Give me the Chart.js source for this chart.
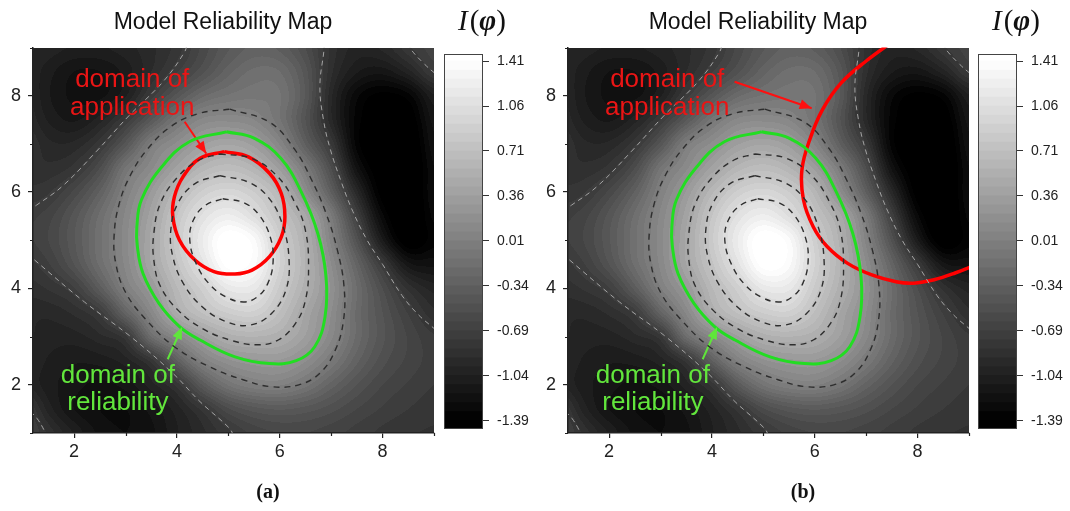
<!DOCTYPE html>
<html>
<head>
<meta charset="utf-8">
<script src="https://cdn.jsdelivr.net/npm/chart.js@4.4.1/dist/chart.umd.min.js"></script>
<style>
  html, body { margin: 0; padding: 0; background: #fff; }
  #page { position: relative; width: 1070px; height: 511px; overflow: hidden; font-family: "Liberation Sans", Arial, sans-serif; }
  canvas { position: absolute; top: 0; }
  .title { position: absolute; top: 8px; width: 300px; font-size: 23px; line-height: 27px; text-align: center; color: #111; }
  .sym { position: absolute; top: 4px; width: 90px; text-align: center; font-family: "Liberation Serif", "Times New Roman", serif; font-size: 29px; line-height: 32px; color: #111; }
  .sym i.v { margin-right: 2px; }
  .cap { position: absolute; top: 479px; width: 60px; text-align: center; font-family: "Liberation Serif", "Times New Roman", serif; font-weight: bold; font-size: 20px; line-height: 24px; color: #111; }
</style>
</head>
<body>
<div id="page">
  <canvas id="mapA" width="444" height="511" style="left:0px"></canvas>
  <canvas id="barA" width="90" height="511" style="left:444px"></canvas>
  <canvas id="mapB" width="444" height="511" style="left:535px"></canvas>
  <canvas id="barB" width="90" height="511" style="left:978px"></canvas>
  <div class="title" style="left:73px">Model Reliability Map</div>
  <div class="title" style="left:608px">Model Reliability Map</div>
  <div class="sym" style="left:437px"><i class="v">I</i>(<b><i>φ</i></b>)</div>
  <div class="sym" style="left:971px"><i class="v">I</i>(<b><i>φ</i></b>)</div>
  <div class="cap" style="left:238px">(a)</div>
  <div class="cap" style="left:773px">(b)</div>
</div>
<script>
// Data

// grid of I(phi) values, rows follow yNodes (top to bottom), columns follow xNodes
const xNodes = [1.0, 1.5, 2.0, 2.5, 3.0, 3.5, 4.0, 4.5, 5.0, 5.5, 6.0, 6.5, 7.0, 7.5, 8.0, 8.5, 9.0];
const yNodes = [9.0, 8.5, 8.0, 7.5, 7.0, 6.5, 6.0, 5.5, 5.0, 4.5, 4.0, 3.5, 3.0, 2.5, 2.0, 1.5, 1.0];
const field = [
    [-0.95, -1.0, -1.05, -1.05, -1.0, -0.92, -0.8, -0.6, -0.42, -0.32, -0.36, -0.55, -0.85, -1.0, -0.95, -0.78, -0.65],
    [-0.95, -1.08, -1.18, -1.18, -1.08, -0.9, -0.7, -0.5, -0.3, -0.18, -0.2, -0.45, -0.88, -1.1, -1.15, -1.0, -0.75],
    [-0.92, -1.1, -1.2, -1.2, -1.05, -0.73, -0.45, -0.22, -0.12, -0.08, -0.12, -0.42, -0.95, -1.3, -1.42, -1.35, -1.05],
    [-0.88, -1.05, -1.12, -1.0, -0.75, -0.42, -0.1, 0.1, 0.13, 0.08, -0.12, -0.48, -0.95, -1.35, -1.5, -1.48, -1.15],
    [-0.8, -0.95, -0.95, -0.78, -0.45, -0.03, 0.17, 0.35, 0.42, 0.33, 0.07, -0.35, -0.77, -1.35, -1.55, -1.55, -1.2],
    [-0.85, -0.88, -0.8, -0.55, -0.12, 0.13, 0.38, 0.6, 0.68, 0.58, 0.33, -0.05, -0.55, -1.2, -1.5, -1.58, -1.25],
    [-0.82, -0.77, -0.6, -0.33, 0.02, 0.3, 0.62, 0.87, 0.96, 0.85, 0.6, 0.15, -0.35, -0.95, -1.45, -1.58, -1.25],
    [-0.72, -0.65, -0.45, -0.18, 0.1, 0.4, 0.78, 1.08, 1.22, 1.05, 0.75, 0.45, -0.05, -0.7, -1.3, -1.55, -1.3],
    [-0.72, -0.62, -0.42, -0.15, 0.12, 0.45, 0.83, 1.2, 1.5, 1.36, 0.88, 0.54, 0.05, -0.5, -1.1, -1.48, -1.35],
    [-0.8, -0.7, -0.48, -0.18, 0.1, 0.43, 0.76, 1.1, 1.45, 1.36, 0.92, 0.57, 0.15, -0.3, -0.75, -1.15, -1.2],
    [-0.88, -0.82, -0.7, -0.38, 0.0, 0.28, 0.63, 0.88, 1.15, 1.15, 0.83, 0.53, 0.2, -0.2, -0.55, -0.85, -1.0],
    [-0.95, -0.95, -0.88, -0.73, -0.3, 0.1, 0.5, 0.72, 0.86, 0.9, 0.7, 0.42, 0.15, -0.22, -0.48, -0.7, -0.88],
    [-0.95, -1.0, -1.0, -0.92, -0.78, -0.2, 0.1, 0.35, 0.53, 0.57, 0.52, 0.35, 0.1, -0.22, -0.46, -0.63, -0.75],
    [-0.95, -1.05, -1.1, -1.08, -1.0, -0.8, -0.35, 0.02, 0.2, 0.27, 0.28, 0.16, -0.06, -0.32, -0.52, -0.64, -0.72],
    [-0.95, -1.08, -1.15, -1.2, -1.15, -1.0, -0.8, -0.4, -0.12, 0.0, 0.02, -0.1, -0.3, -0.48, -0.62, -0.7, -0.76],
    [-0.7, -1.0, -1.18, -1.25, -1.25, -1.15, -1.0, -0.8, -0.56, -0.44, -0.4, -0.44, -0.52, -0.62, -0.7, -0.76, -0.8],
    [-0.6, -0.85, -1.05, -1.2, -1.25, -1.2, -1.05, -0.92, -0.78, -0.67, -0.62, -0.62, -0.66, -0.72, -0.78, -0.82, -0.84]
];

// colour levels of the map and colour bar
const levels = [-1.39, -1.32, -1.25, -1.18, -1.11, -1.04, -0.97, -0.90, -0.83, -0.76,
    -0.69, -0.62, -0.55, -0.48, -0.41, -0.34, -0.27, -0.20, -0.13, -0.06,
    0.01, 0.08, 0.15, 0.22, 0.29, 0.36, 0.43, 0.50, 0.57, 0.64,
    0.71, 0.78, 0.85, 0.92, 0.99, 1.06, 1.13, 1.20, 1.27, 1.34, 1.41];
const cbTicks = [-1.39, -1.04, -0.69, -0.34, 0.01, 0.36, 0.71, 1.06, 1.41];
const cbMin = -1.455;
const cbMax = 1.465;

const xTicks = [2, 3, 4, 5, 6, 7, 8, 9];
const yTicks = [1, 2, 3, 4, 5, 6, 7, 8, 9];

// dashed contour lines
const ring100 = [[4.89, 5.86], [5.3, 5.78], [5.6, 5.52], [5.82, 5.05], [5.87, 4.55], [5.77, 4.11], [5.57, 3.83],
    [5.3, 3.72], [4.96, 3.82], [4.64, 4.08], [4.38, 4.5], [4.25, 5.0], [4.32, 5.42], [4.56, 5.73], [4.89, 5.86]];
const ring075 = [[4.83, 6.34], [5.4, 6.2], [5.8, 5.86], [6.06, 5.3], [6.18, 4.6], [6.12, 3.97], [5.84, 3.48],
    [5.43, 3.24], [4.96, 3.31], [4.49, 3.62], [4.12, 4.11], [3.92, 4.66], [3.88, 5.21], [4.02, 5.77], [4.36, 6.18], [4.83, 6.34]];
const ring050 = [[4.83, 6.79], [5.45, 6.7], [5.95, 6.33], [6.3, 5.77], [6.5, 5.2], [6.56, 4.45], [6.5, 3.76],
    [6.31, 3.28], [5.97, 2.93], [5.57, 2.83], [5.03, 2.93], [4.49, 3.17], [4.02, 3.55], [3.68, 4.04], [3.55, 4.59],
    [3.55, 5.14], [3.68, 5.77], [4.02, 6.32], [4.42, 6.66], [4.83, 6.79]];
const ring000 = [[5.03, 7.72], [5.8, 7.45], [6.28, 6.9], [6.62, 6.25], [6.9, 5.56], [7.12, 4.8], [7.25, 4.04],
    [7.24, 3.34], [7.08, 2.72], [6.78, 2.24], [6.37, 2.0], [5.84, 1.96], [5.3, 2.1], [4.62, 2.38], [3.95, 2.79],
    [3.41, 3.34], [3.01, 3.9], [2.81, 4.52], [2.78, 5.14], [2.88, 5.77], [3.08, 6.32], [3.41, 6.87], [3.88, 7.36],
    [4.42, 7.63], [5.03, 7.72]];
const outerNW = [[1.1, 5.62], [1.27, 5.73], [1.78, 6.13], [2.43, 6.84], [3.08, 7.6], [3.73, 8.29], [4.15, 8.91], [4.2, 9.1]];
const outerSW = [[1.1, 4.72], [1.22, 4.6], [2.2, 3.72], [3.1, 3.0], [3.9, 2.26], [4.45, 1.65], [5.02, 1.1], [5.1, 0.95]];
const outerCorner = [[1.15, 1.45], [1.28, 1.3], [1.42, 1.05], [1.45, 0.95]];
const outerE = [[6.86, 9.1], [6.86, 8.95], [6.78, 8.2], [6.85, 7.5], [6.98, 6.9], [7.2, 6.2], [7.42, 5.6],
    [7.7, 5.0], [8.0, 4.5], [8.38, 3.85], [8.7, 3.45], [9.0, 3.17], [9.1, 3.07]];
const outerNE = [[8.5, 9.1], [8.56, 8.95], [8.82, 8.65], [9.0, 8.48], [9.1, 8.4]];

// domain of reliability (green) and domains of application (red)
const reliability = [[4.96, 7.25], [5.5, 7.12], [6.02, 6.7], [6.42, 6.0], [6.74, 5.14], [6.9, 4.24], [6.88, 3.41],
    [6.68, 2.79], [6.32, 2.5], [5.8, 2.44], [5.13, 2.58], [4.45, 2.93], [4.05, 3.21], [3.65, 3.69], [3.34, 4.31],
    [3.23, 4.87], [3.22, 5.28], [3.31, 5.84], [3.71, 6.53], [4.25, 7.05], [4.96, 7.25]];
const applicationA = [[4.92, 6.84], [5.39, 6.73], [5.8, 6.39], [6.03, 5.97], [6.1, 5.49], [6.03, 5.07], [5.8, 4.66],
    [5.46, 4.38], [5.13, 4.3], [4.72, 4.35], [4.35, 4.59], [4.05, 5.0], [3.92, 5.49], [3.95, 5.9], [4.12, 6.32],
    [4.45, 6.7], [4.92, 6.84]];
const applicationB = [[7.55, 9.15], [7.0, 8.72], [6.51, 8.26], [6.15, 7.71], [5.9, 7.08], [5.75, 6.46], [5.78, 5.84],
    [5.97, 5.28], [6.24, 4.87], [6.64, 4.52], [7.11, 4.28], [7.58, 4.14], [7.92, 4.11], [8.32, 4.18], [8.73, 4.32], [9.2, 4.52]];

// arrows: tail, tip
const arrowAppA = [[4.15, 7.46], [4.57, 6.8]];
const arrowAppB = [[4.44, 8.29], [5.94, 7.74]];
const arrowRel = [[3.82, 2.53], [4.1, 3.2]];

const notes = [
    { text: 'domain of', x: 3.13, y: 8.19, color: '#ea1515' },
    { text: 'application', x: 3.13, y: 7.59, color: '#ea1515' },
    { text: 'domain of', x: 2.85, y: 2.04, color: '#62e63c' },
    { text: 'reliability', x: 2.85, y: 1.48, color: '#62e63c' }
];

const FONT = '"Liberation Sans", Arial, sans-serif';
Chart.defaults.font.family = FONT;
Chart.defaults.color = '#222';

// Helpers
const pts = arr => arr.map(([x, y]) => ({ x, y }));
const isMinor = v => v % 2 !== 0;

function grayFor(v) {
    if (v < levels[0]) return 0;
    const n = levels.length - 1;
    if (v >= levels[n]) return 255;
    let k = 0;
    while (v >= levels[k + 1]) k++;
    return Math.round(255 * (k + 0.5) / n);
}

function cubic(p0, p1, p2, p3, t) {
    return p1 + 0.5 * t * (p2 - p0 + t * (2 * p0 - 5 * p1 + 4 * p2 - p3 + t * (3 * (p1 - p2) + p3 - p0)));
}

function fieldAt(x, y) {
    const fx = (x - xNodes[0]) / (xNodes[1] - xNodes[0]);
    const fy = (yNodes[0] - y) / (yNodes[0] - yNodes[1]);
    const ix = Math.floor(fx), iy = Math.floor(fy);
    const tx = fx - ix, ty = fy - iy;
    const cx = i => Math.min(Math.max(i, 0), xNodes.length - 1);
    const cy = i => Math.min(Math.max(i, 0), yNodes.length - 1);
    const col = [];
    for (let m = -1; m <= 2; m++) {
        const r = field[cy(iy + m)];
        col.push(cubic(r[cx(ix - 1)], r[cx(ix)], r[cx(ix + 1)], r[cx(ix + 2)], tx));
    }
    return cubic(col[0], col[1], col[2], col[3], ty);
}

// Plugins
const heatmapPlugin = {
    id: 'heatmap',
    beforeDraw(chart) {
        const { ctx, chartArea: a, scales: { x, y } } = chart;
        const x0 = Math.round(a.left), y0 = Math.round(a.top);
        const w = Math.round(a.right) - x0, h = Math.round(a.bottom) - y0;
        const img = ctx.createImageData(w, h);
        for (let j = 0; j < h; j++) {
            const yv = y.getValueForPixel(y0 + j + 0.5);
            for (let i = 0; i < w; i++) {
                const g = grayFor(fieldAt(x.getValueForPixel(x0 + i + 0.5), yv));
                const k = (j * w + i) * 4;
                img.data[k] = img.data[k + 1] = img.data[k + 2] = g;
                img.data[k + 3] = 255;
            }
        }
        ctx.putImageData(img, x0, y0);
    },
    // short minor ticks at the odd values
    afterDraw(chart) {
        const { ctx, chartArea: a, scales: { x, y } } = chart;
        ctx.save();
        ctx.strokeStyle = '#222';
        ctx.lineWidth = 1.2;
        ctx.beginPath();
        xTicks.filter(isMinor).forEach(v => {
            const px = Math.round(x.getPixelForValue(v)) + 0.5;
            ctx.moveTo(px, a.bottom);
            ctx.lineTo(px, a.bottom + 3);
        });
        yTicks.filter(isMinor).forEach(v => {
            const py = Math.round(y.getPixelForValue(v)) + 0.5;
            ctx.moveTo(a.left, py);
            ctx.lineTo(a.left - 3, py);
        });
        ctx.stroke();
        ctx.restore();
    }
};

const notesPlugin = {
    id: 'notes',
    afterDatasetsDraw(chart) {
        const { ctx, scales: { x, y } } = chart;
        chart.data.datasets.forEach((ds, i) => {
            if (!ds.arrow) return;
            const el = chart.getDatasetMeta(i).data;
            const p = el[el.length - 1], q = el[el.length - 2];
            ctx.save();
            ctx.translate(p.x, p.y);
            ctx.rotate(Math.atan2(p.y - q.y, p.x - q.x));
            ctx.beginPath();
            ctx.moveTo(0, 0);
            ctx.lineTo(-12, -5);
            ctx.lineTo(-12, 5);
            ctx.closePath();
            ctx.fillStyle = ds.borderColor;
            ctx.fill();
            ctx.restore();
        });
        ctx.save();
        ctx.font = '26px ' + FONT;
        ctx.textAlign = 'center';
        ctx.textBaseline = 'alphabetic';
        notes.forEach(n => {
            ctx.fillStyle = n.color;
            ctx.fillText(n.text, x.getPixelForValue(n.x), y.getPixelForValue(n.y));
        });
        ctx.restore();
    }
};

const framePlugin = {
    id: 'frame',
    afterDraw(chart) {
        const { ctx, chartArea: a } = chart;
        ctx.save();
        ctx.strokeStyle = '#444';
        ctx.lineWidth = 1;
        ctx.strokeRect(a.left + 0.5, a.top + 0.5, a.width - 1, a.height - 1);
        ctx.restore();
    }
};

// Charts
function line(data, color, width, dash) {
    return {
        data: pts(data),
        showLine: true,
        borderColor: color,
        borderWidth: width,
        borderDash: dash || [],
        pointRadius: 0,
        tension: 0.4,
        fill: false
    };
}

function axis(min, max, values, padding, fit) {
    return {
        type: 'linear',
        min,
        max,
        afterBuildTicks: s => { s.ticks = values.map(v => ({ value: v })); },
        afterFit: fit,
        grid: {
            drawOnChartArea: false,
            tickLength: 5,
            lineWidth: 1.2,
            tickColor: c => (c.tick && isMinor(c.tick.value) ? 'rgba(0,0,0,0)' : '#222')
        },
        border: { color: '#222', width: 1.5 },
        ticks: {
            font: { size: 18 },
            color: '#222',
            padding,
            autoSkip: false,
            maxRotation: 0,
            callback: v => (isMinor(v) ? '' : v)
        }
    };
}

function mapChart(id, application, arrowApp) {
    const datasets = [
        ...[outerNW, outerSW, outerCorner, outerE, outerNE].map(d => line(d, '#a4a4a4', 1, [5, 4])),
        ...[ring100, ring075, ring050, ring000].map(d => line(d, '#2e2e2e', 1.4, [6, 5])),
        line(reliability, '#22dd22', 3),
        line(application, '#ff0000', 3.5),
        Object.assign(line(arrowApp, '#ff1010', 2), { arrow: true, tension: 0 }),
        Object.assign(line(arrowRel, '#5fe63a', 2), { arrow: true, tension: 0 })
    ];

    return new Chart(document.getElementById(id), {
        type: 'scatter',
        data: { datasets },
        options: {
            responsive: false,
            animation: false,
            events: [],
            layout: { padding: { top: 47.5, right: 10, bottom: 48, left: 0 } },
            elements: { line: { capBezierPoints: false } },
            plugins: { legend: { display: false }, tooltip: { enabled: false } },
            scales: {
                x: axis(1.2, 9, xTicks, 3, s => { s.height = 30; }),
                y: axis(1, 9, yTicks, 7, s => { s.width = 33; })
            }
        },
        plugins: [heatmapPlugin, notesPlugin]
    });
}

function colorBar(id) {
    const lows = [cbMin, ...levels];
    const highs = [...levels, cbMax];
    const datasets = lows.map((lo, i) => {
        const g = grayFor((lo + highs[i]) / 2);
        return {
            data: [[lo, highs[i]]],
            backgroundColor: `rgb(${g},${g},${g})`,
            grouped: false,
            barPercentage: 1,
            categoryPercentage: 1,
            borderWidth: 0
        };
    });

    return new Chart(document.getElementById(id), {
        type: 'bar',
        data: { labels: ['I'], datasets },
        options: {
            responsive: false,
            animation: false,
            events: [],
            layout: { padding: { top: 54, bottom: 82, left: 0, right: 0 } },
            plugins: { legend: { display: false }, tooltip: { enabled: false } },
            scales: {
                x: { display: false },
                y: {
                    position: 'right',
                    min: cbMin,
                    max: cbMax,
                    afterBuildTicks: s => { s.ticks = cbTicks.map(v => ({ value: v })); },
                    afterFit: s => { s.width = 51; },
                    grid: { drawOnChartArea: false, tickLength: 6, color: '#333' },
                    border: { display: false },
                    ticks: { padding: 8, font: { size: 14 }, color: '#222', callback: v => v.toFixed(2) }
                }
            }
        },
        plugins: [framePlugin]
    });
}

mapChart('mapA', applicationA, arrowAppA);
mapChart('mapB', applicationB, arrowAppB);
colorBar('barA');
colorBar('barB');
</script>
</body>
</html>
